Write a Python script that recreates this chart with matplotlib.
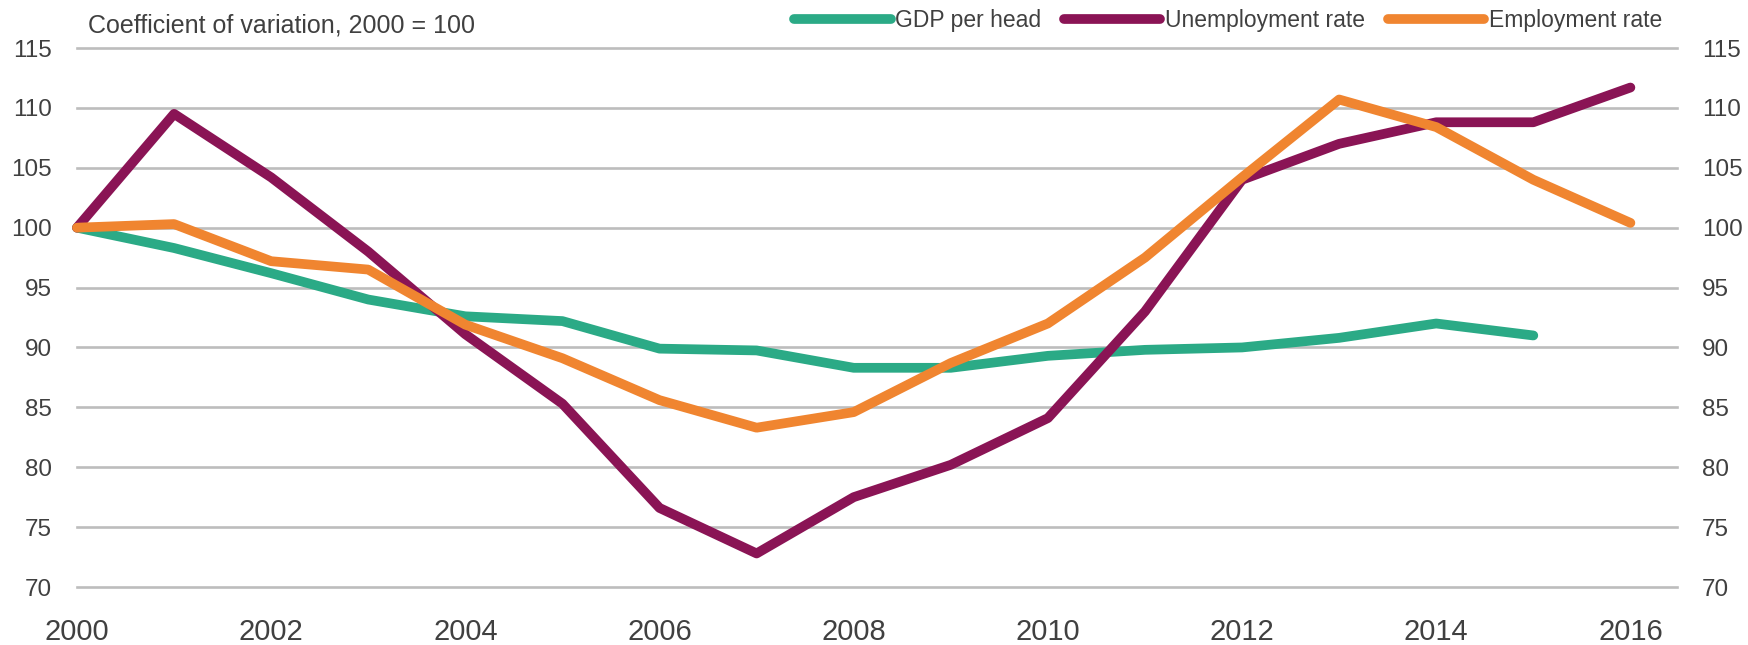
import numpy as np
import matplotlib
matplotlib.use("Agg")
import matplotlib.pyplot as plt

# dados (indice 2000 = 100)
anos = list(range(2000, 2017))
pib_por_habitante = [100, 98.3, 96.2, 94.0, 92.6, 92.2, 89.9, 89.75, 88.3, 88.3,
                     89.3, 89.8, 90.0, 90.8, 92.0, 91.0, np.nan]
taxa_desemprego = [100, 109.5, 104.2, 98.0, 91.1, 85.3, 76.6, 72.8, 77.5, 80.2,
                   84.1, 93.0, 104.0, 107.0, 108.8, 108.8, 111.7]
taxa_emprego = [100, 100.3, 97.2, 96.5, 91.9, 89.1, 85.6, 83.3, 84.6, 88.7,
                92.0, 97.5, 104.2, 110.7, 108.4, 104.0, 100.4]

nomes_series = ["GDP per head", "Unemployment rate", "Employment rate"]
cores = ["#2BAA86", "#8A1455", "#F08530"]
ticks_y = list(range(70, 120, 5))
ticks_x = list(range(2000, 2017, 2))
titulo = "Coefficient of variation, 2000 = 100"

FONTE = ["Liberation Sans", "DejaVu Sans"]
COR_TEXTO = "#404040"


def gerar_grafico(nome_arquivo):
    plt.rcParams['font.family'] = FONTE
    fig = plt.figure(figsize=(17.48, 6.45), dpi=100)
    ax = fig.add_axes([77 / 1748, 1 - 587 / 645, 1600 / 1748, 539 / 645])

    # linhas de grade horizontais
    for v in ticks_y:
        ax.axhline(v, color="#BDBDBD", linewidth=1.9, zorder=1, clip_on=False)

    series = [pib_por_habitante, taxa_desemprego, taxa_emprego]
    for valores, nome, cor in zip(series, nomes_series, cores):
        ax.plot(anos, valores, color=cor, linewidth=7, label=nome,
                solid_capstyle="round", solid_joinstyle="round",
                clip_on=False, zorder=3)

    ax.set_xlim(2000, 2016.48)
    ax.set_ylim(70, 115)
    ax.set_yticks(ticks_y)
    ax.set_xticks(ticks_x)
    ax.set_xticklabels([str(a) for a in ticks_x], fontsize=21, color=COR_TEXTO)
    ax.tick_params(axis="x", length=0, pad=22)
    ax.tick_params(axis="y", length=0, pad=18, labelsize=17.5,
                   labelcolor=COR_TEXTO, labelleft=True, labelright=True)
    for lado in ax.spines.values():
        lado.set_visible(False)

    fig.text(88 / 1748, 1 - 26 / 645, titulo, fontsize=18, color=COR_TEXTO,
             va="center", ha="left")

    leg = ax.legend(loc="center right", ncol=3, frameon=False, fontsize=16.5,
                    bbox_to_anchor=(1662 / 1748, 1 - 21 / 645),
                    bbox_transform=fig.transFigure, borderpad=0,
                    borderaxespad=0, handlelength=4.2, handletextpad=0.2,
                    columnspacing=1.0)
    for texto in leg.get_texts():
        texto.set_color(COR_TEXTO)

    fig.savefig(nome_arquivo, dpi=100)
    plt.close(fig)


gerar_grafico("out.png")
